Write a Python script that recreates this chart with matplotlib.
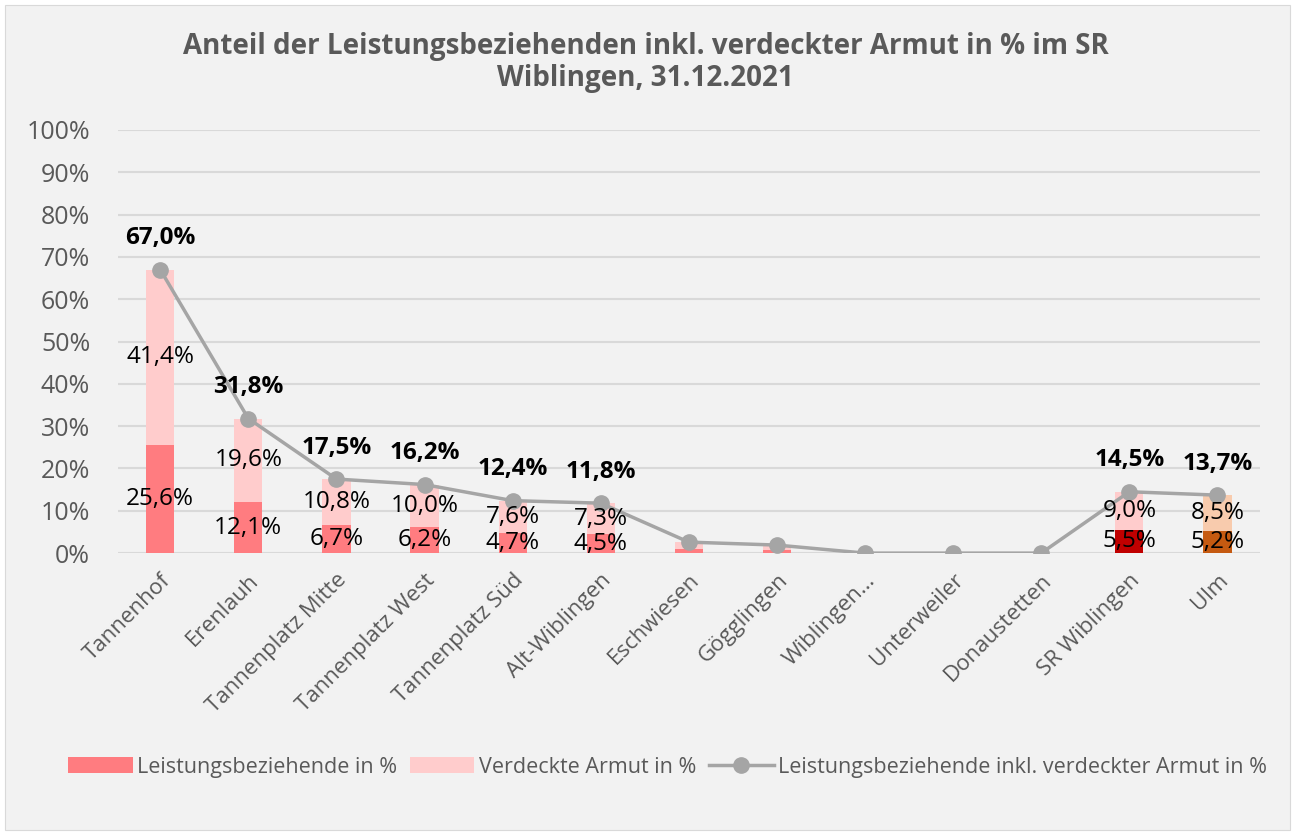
import matplotlib.pyplot as plt
from matplotlib.patches import Rectangle
import numpy as np

plt.rcParams['font.family'] = ['Open Sans', 'DejaVu Sans']

categories = ['Tannenhof', 'Erenlauh', 'Tannenplatz Mitte', 'Tannenplatz West',
              'Tannenplatz Süd', 'Alt-Wiblingen', 'Eschwiesen', 'Gögglingen',
              'Wiblingen…', 'Unterweiler', 'Donaustetten', 'SR Wiblingen', 'Ulm']
leistung = [25.6, 12.1, 6.7, 6.2, 4.7, 4.5, 1.0, 0.8, 0.0, 0.0, 0.0, 5.5, 5.2]
verdeckt = [41.4, 19.6, 10.8, 10.0, 7.6, 7.3, 1.6, 1.1, 0.0, 0.0, 0.0, 9.0, 8.5]
gesamt = [67.0, 31.8, 17.5, 16.2, 12.4, 11.8, 2.6, 1.9, 0.0, 0.0, 0.0, 14.5, 13.7]
# labelled bars (the small ones have no labels)
labelled = [0, 1, 2, 3, 4, 5, 11, 12]

col_dark = ['#FF7C80'] * 11 + ['#C00000', '#C55A11']
col_light = ['#FFCCCC'] * 12 + ['#F8CBAD']
grey_text = '#595959'

fig = plt.figure(figsize=(12.96, 8.33), dpi=100)
fig.patch.set_facecolor('white')
fig.patches.append(Rectangle((5 / 1296, 3 / 833), 1285 / 1296, 825 / 833,
                             transform=fig.transFigure, facecolor='#F2F2F2',
                             edgecolor='#D9D9D9', lw=0.8, zorder=-10))

ax = fig.add_axes([0.091, 0.336, 0.881, 0.508])
ax.set_facecolor('none')

x = np.arange(len(categories))
b_low = np.array(leistung) / 100
b_up = np.array(verdeckt) / 100
tot = np.array(gesamt) / 100

h1 = ax.bar(x, b_low, width=0.32, color=col_dark, zorder=2,
            label='Leistungsbeziehende in %')
h2 = ax.bar(x, b_up, width=0.32, bottom=b_low, color=col_light, zorder=2,
            label='Verdeckte Armut in %')
h3, = ax.plot(x, tot, color='#A5A5A5', lw=2.5, marker='o', markersize=11,
              zorder=3, label='Leistungsbeziehende inkl. verdeckter Armut in %')

def fmt(v):
    return '{:.1f}%'.format(v).replace('.', ',')

for i in labelled:
    ax.text(x[i], b_low[i] / 2, fmt(leistung[i]), ha='center', va='center',
            fontsize=17.5, color='black', zorder=4)
    ax.text(x[i], b_low[i] + b_up[i] / 2, fmt(verdeckt[i]), ha='center',
            va='center', fontsize=17.5, color='black', zorder=4)
    ax.annotate(fmt(gesamt[i]), (x[i], tot[i]), xytext=(0, 14),
                textcoords='offset points', ha='center', va='bottom',
                fontsize=17.5, fontweight='bold', color='black', zorder=4)

ax.set_xlim(-0.48, 12.48)
ax.set_ylim(0, 1)
ax.set_yticks(np.arange(0, 1.01, 0.1))
ax.set_yticklabels(['{}%'.format(v) for v in range(0, 101, 10)])
ax.yaxis.grid(True, color='#D9D9D9', lw=1.5, zorder=0)
ax.set_xticks(x)
ax.set_xticklabels(categories, rotation=45, ha='right', rotation_mode='anchor')
ax.tick_params(axis='y', length=0, labelsize=18, labelcolor=grey_text, pad=20)
ax.tick_params(axis='x', length=0, labelsize=16, labelcolor=grey_text, pad=12)
for s in ax.spines.values():
    s.set_visible(False)

fig.text(0.498, 0.925, 'Anteil der Leistungsbeziehenden inkl. verdeckter Armut in % im SR\nWiblingen, 31.12.2021',
         ha='center', va='center', fontsize=20, fontweight='bold',
         color=grey_text, linespacing=1.15)

fig.legend([h1, h2, h3], [h1.get_label(), h2.get_label(), h3.get_label()],
           loc='center', bbox_to_anchor=(0.515, 0.079), ncol=3, frameon=False,
           fontsize=15.5, labelcolor=grey_text, handlelength=3.0,
           handleheight=0.8, columnspacing=0.6, handletextpad=0.2)

fig.savefig('out.png', dpi=100, facecolor=fig.get_facecolor())
